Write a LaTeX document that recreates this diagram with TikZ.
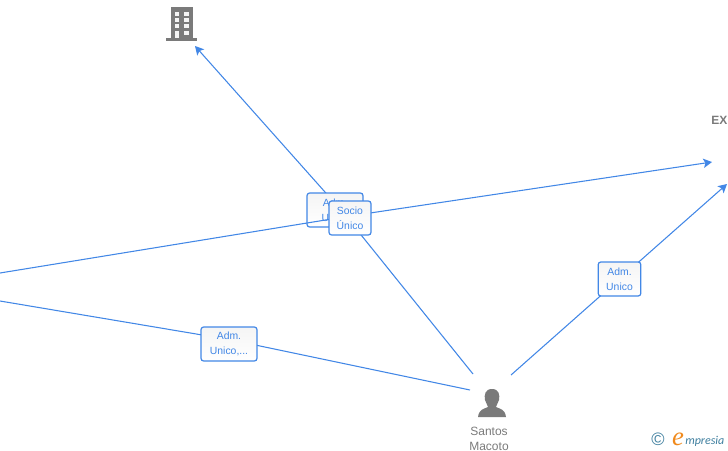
\documentclass[tikz,border=0pt]{standalone}
\usepackage{fontspec}
\setmainfont{Liberation Sans}
\newfontfamily\logofont{Liberation Serif}
\newfontfamily\logotextfont{Carlito}
\usetikzlibrary{arrows.meta,positioning}
\definecolor{linkblue}{HTML}{4287E6}
\definecolor{icongrey}{HTML}{7A7A7A}
\definecolor{logoteal}{HTML}{3F7F9F}
\definecolor{logoorange}{HTML}{F08A1D}
\tikzset{
    link/.style={linkblue,line width=0.8pt},
    arrowlink/.style={link,-{Stealth[length=6.5pt,width=7pt,inset=1.5pt]}},
    rolebox/.style={draw=linkblue,line width=0.9pt,rounded corners=2pt,top color=black!4,bottom color=white,
        minimum height=25.5pt,inner sep=0pt,align=center,text=linkblue,font=\fontsize{7.8pt}{11.25pt}\selectfont},
    nametext/.style={text=icongrey,align=center,inner sep=0pt,font=\fontsize{9pt}{11.25pt}\selectfont}
}
\begin{document}
\begin{tikzpicture}[x=0.75pt,y=-0.75pt]
    \useasboundingbox (0,0) rectangle (728,450);

    % free ends of the links
    \coordinate (leftA) at (0,273);
    \coordinate (leftB) at (0,301);
    \coordinate (officeEnd) at (195,46);
    \coordinate (exEndA) at (712,162);
    \coordinate (exEndB) at (727,184);
    \coordinate (santosA) at (473,374);
    \coordinate (santosB) at (511,375);
    \coordinate (santosC) at (470,390);
    \coordinate (bendA) at (350,216);
    \coordinate (bendB) at (229,339.5);
    \coordinate (bendC) at (341,210);
    \coordinate (bendD) at (619.5,279);

    % links and boxes, in the order they overlap
    \draw [arrowlink] (santosA) -- (bendC) -- (officeEnd);
    \draw [link] (santosC) -- (bendB) -- (leftB);
    \draw [arrowlink] (santosB) -- (bendD) -- (exEndB);
    \node [rolebox,minimum width=42pt] (admOffice) at (335,210) {Adm.\\Unico};
    \draw [arrowlink] (leftA) -- (bendA) -- (exEndA);
    \node [rolebox,minimum width=31.5pt] (socio) at (350,218) {Socio\\Único};
    \node [rolebox,minimum width=42pt] (admLeft) at (229,344) {Adm.\\Unico,...};
    \node [rolebox,minimum width=32pt] (admEx) at (bendD) {Adm.\\Unico};

    % office block
    \fill [icongrey] (171,7) rectangle (193,38);
    \fill [icongrey] (166,38) rectangle (197,41);
    \foreach \r in {12,18,24} {
        \fill [white!92!icongrey] (174.5,\r) rectangle (179,\r+4);
        \fill [white!92!icongrey] (184,\r) rectangle (188.5,\r+4);
    }
    \fill [white!92!icongrey] (184,31) rectangle (188.5,35);
    \fill [white!92!icongrey] (174.5,31) rectangle (179,38);

    % person
    \fill [icongrey] (492,389) .. controls (485,389) and (484,395) .. (485,400)
        .. controls (485.5,403) and (488,405) .. (488,407)
        .. controls (484,409) and (479,409) .. (478,417) -- (506,417)
        .. controls (505,409) and (500,409) .. (496,407)
        .. controls (496,405) and (498.5,403) .. (499,400)
        .. controls (500,395) and (499,389) .. (492,389) -- cycle;

    \node [nametext] (santos) at (489,438.5) {Santos\\Macoto};
    \node [nametext,anchor=west,font=\fontsize{9pt}{11pt}\selectfont\bfseries] (ex) at (711,120) {EX};

    % logo
    \node [text=logoteal,inner sep=0pt,font=\fontsize{13.5pt}{13.5pt}\selectfont] (copyr) at (658,439.5) {©};
    \node [text=logoorange,inner sep=0pt,anchor=base,font=\fontsize{20pt}{20pt}\logofont\itshape] (logoe) at (678,445) {e};
    \node [text=logoteal,inner sep=0pt,anchor=base west,font=\fontsize{9pt}{9pt}\logotextfont\itshape] (logotext) at (685,444) {mpresia};
\end{tikzpicture}
\end{document}
